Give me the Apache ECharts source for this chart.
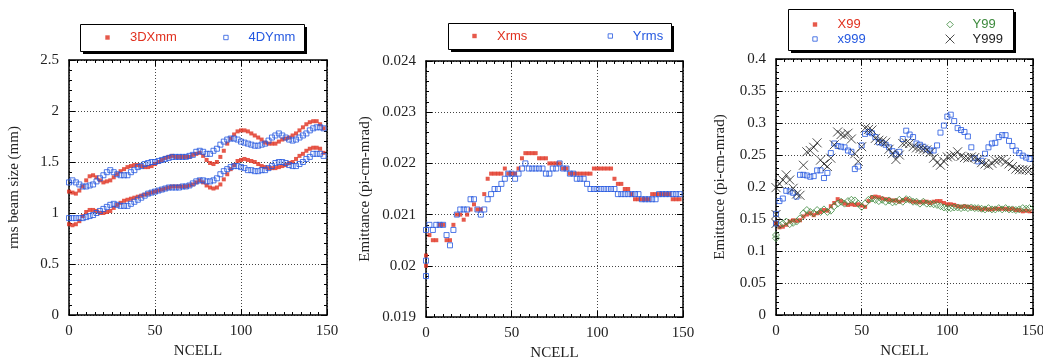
<!DOCTYPE html>
<html>
<head>
<meta charset="utf-8">
<script src="https://cdn.jsdelivr.net/npm/echarts@6.0.0/dist/echarts.min.js"></script>
<style>
  html, body { margin: 0; padding: 0; background: #fff; }
  #chart { width: 1043px; height: 360px; }
</style>
</head>
<body>
<div id="chart"></div>
<script>
// NCELL positions shared by all series
const cells = [0, 2, 4, 6, 8, 10, 12, 14, 16, 18, 20, 22, 24, 26, 28, 30, 32, 34, 36, 38,
  40, 42, 44, 46, 48, 50, 52, 54, 56, 58, 60, 62, 64, 66, 68, 70, 72, 74, 76, 78,
  80, 82, 84, 86, 88, 90, 92, 94, 96, 98, 100, 102, 104, 106, 108, 110, 112, 114, 116, 118,
  120, 122, 124, 126, 128, 130, 132, 134, 136, 138, 140, 142, 144, 146, 148];

// panel 1: rms beam size (mm), two branches per series
const dxUpper = [1.21, 1.20, 1.19, 1.22, 1.26, 1.32, 1.36, 1.37, 1.35, 1.32, 1.30, 1.31, 1.32, 1.35, 1.38, 1.41, 1.43, 1.45, 1.46, 1.47,
  1.47, 1.46, 1.45, 1.45, 1.46, 1.48, 1.50, 1.52, 1.54, 1.55, 1.56, 1.55, 1.55, 1.55, 1.55, 1.55, 1.57, 1.58, 1.59, 1.56,
  1.52, 1.49, 1.48, 1.50, 1.55, 1.61, 1.68, 1.73, 1.77, 1.80, 1.81, 1.81, 1.80, 1.78, 1.76, 1.74, 1.72, 1.69, 1.68, 1.68,
  1.68, 1.70, 1.72, 1.73, 1.74, 1.76, 1.78, 1.81, 1.84, 1.87, 1.89, 1.90, 1.90, 1.87, 1.83];
const dxLower = [0.89, 0.88, 0.89, 0.92, 0.97, 1.01, 1.03, 1.03, 1.02, 1.00, 1.00, 1.01, 1.02, 1.05, 1.08, 1.10, 1.12, 1.13, 1.14, 1.15,
  1.16, 1.17, 1.18, 1.19, 1.20, 1.21, 1.22, 1.23, 1.24, 1.25, 1.26, 1.26, 1.26, 1.26, 1.26, 1.27, 1.28, 1.30, 1.32, 1.30,
  1.27, 1.25, 1.24, 1.25, 1.28, 1.33, 1.38, 1.43, 1.47, 1.51, 1.52, 1.53, 1.52, 1.51, 1.50, 1.48, 1.46, 1.45, 1.44, 1.44,
  1.44, 1.45, 1.46, 1.47, 1.49, 1.50, 1.53, 1.56, 1.58, 1.61, 1.63, 1.64, 1.64, 1.63, 1.59];
const dyUpper = [1.30, 1.32, 1.30, 1.28, 1.26, 1.26, 1.27, 1.28, 1.31, 1.34, 1.37, 1.40, 1.42, 1.40, 1.38, 1.37, 1.37, 1.37, 1.40, 1.42,
  1.45, 1.46, 1.48, 1.49, 1.50, 1.50, 1.51, 1.52, 1.53, 1.54, 1.55, 1.55, 1.55, 1.55, 1.55, 1.56, 1.57, 1.60, 1.61, 1.60,
  1.58, 1.58, 1.61, 1.63, 1.67, 1.70, 1.72, 1.73, 1.73, 1.72, 1.70, 1.69, 1.68, 1.67, 1.66, 1.66, 1.67, 1.68, 1.71, 1.74,
  1.76, 1.78, 1.76, 1.74, 1.72, 1.71, 1.72, 1.74, 1.76, 1.78, 1.81, 1.83, 1.84, 1.84, 1.83];
const dyLower = [0.95, 0.95, 0.95, 0.95, 0.95, 0.96, 0.97, 0.98, 1.00, 1.02, 1.04, 1.06, 1.08, 1.09, 1.08, 1.07, 1.07, 1.07, 1.09, 1.11,
  1.13, 1.15, 1.17, 1.19, 1.20, 1.21, 1.22, 1.23, 1.24, 1.25, 1.25, 1.25, 1.25, 1.26, 1.26, 1.27, 1.29, 1.31, 1.32, 1.32,
  1.31, 1.31, 1.32, 1.34, 1.38, 1.41, 1.43, 1.45, 1.46, 1.46, 1.45, 1.44, 1.42, 1.42, 1.41, 1.41, 1.42, 1.42, 1.44, 1.46,
  1.49, 1.50, 1.50, 1.49, 1.47, 1.46, 1.46, 1.48, 1.50, 1.53, 1.55, 1.58, 1.58, 1.58, 1.56];

// panel 2: rms emittance
const xrms = [0.0202, 0.0206, 0.0205, 0.0205, 0.0208, 0.0208, 0.0205, 0.0205, 0.0208, 0.0210, 0.0210, 0.0209, 0.0210, 0.0211, 0.0212, 0.0211, 0.0211, 0.0214, 0.0217, 0.0218,
  0.0218, 0.0218, 0.0218, 0.0219, 0.0218, 0.0218, 0.0218, 0.0219, 0.0221, 0.0222, 0.0222, 0.0222, 0.0222, 0.0221, 0.0221, 0.0221, 0.0220, 0.0220, 0.0220, 0.0220,
  0.0219, 0.0219, 0.0218, 0.0218, 0.0218, 0.0218, 0.0218, 0.0218, 0.0218, 0.0219, 0.0219, 0.0219, 0.0219, 0.0219, 0.0219, 0.0217, 0.0216, 0.0216, 0.0215, 0.0215,
  0.0214, 0.0213, 0.0213, 0.0213, 0.0213, 0.0213, 0.0214, 0.0214, 0.0214, 0.0214, 0.0214, 0.0214, 0.0213, 0.0213, 0.0213];
const yrms = [0.0207, 0.0208, 0.0207, 0.0208, 0.0208, 0.0208, 0.0206, 0.0204, 0.0207, 0.0210, 0.0211, 0.0211, 0.0211, 0.0213, 0.0213, 0.0211, 0.0210, 0.0211, 0.0213, 0.0214,
  0.0215, 0.0215, 0.0216, 0.0217, 0.0218, 0.0218, 0.0217, 0.0218, 0.0219, 0.0220, 0.0219, 0.0219, 0.0219, 0.0219, 0.0219, 0.0218, 0.0218, 0.0219, 0.0219, 0.0220,
  0.0219, 0.0219, 0.0218, 0.0218, 0.0217, 0.0217, 0.0217, 0.0216, 0.0215, 0.0215, 0.0215, 0.0215, 0.0215, 0.0215, 0.0215, 0.0215, 0.0214, 0.0214, 0.0214, 0.0214,
  0.0214, 0.0214, 0.0214, 0.0213, 0.0213, 0.0213, 0.0213, 0.0213, 0.0214, 0.0214, 0.0214, 0.0214, 0.0214, 0.0214, 0.0214];
const xrmsAtZero = [0.0200];
const yrmsAtZero = [0.0201, 0.0198];

// panel 3: 99% and 99.9% emittance
const x99 = [0.143, 0.137, 0.138, 0.141, 0.146, 0.148, 0.147, 0.148, 0.154, 0.157, 0.159, 0.156, 0.159, 0.161, 0.164, 0.163, 0.170, 0.175, 0.181, 0.178,
  0.174, 0.172, 0.173, 0.172, 0.173, 0.171, 0.169, 0.178, 0.184, 0.185, 0.184, 0.182, 0.181, 0.180, 0.179, 0.179, 0.177, 0.179, 0.181, 0.179,
  0.177, 0.177, 0.176, 0.177, 0.177, 0.175, 0.177, 0.178, 0.178, 0.175, 0.173, 0.173, 0.172, 0.170, 0.169, 0.170, 0.169, 0.168, 0.167, 0.167,
  0.165, 0.166, 0.165, 0.165, 0.166, 0.166, 0.166, 0.166, 0.165, 0.166, 0.164, 0.164, 0.162, 0.163, 0.162];
const y99 = [0.125, 0.140, 0.143, 0.146, 0.142, 0.144, 0.146, 0.151, 0.159, 0.164, 0.161, 0.159, 0.164, 0.161, 0.165, 0.161, 0.163, 0.170, 0.174, 0.177,
  0.174, 0.178, 0.180, 0.179, 0.174, 0.169, 0.174, 0.180, 0.182, 0.180, 0.178, 0.180, 0.177, 0.179, 0.176, 0.177, 0.180, 0.177, 0.181, 0.180,
  0.177, 0.177, 0.174, 0.177, 0.174, 0.174, 0.173, 0.172, 0.170, 0.168, 0.167, 0.167, 0.168, 0.168, 0.167, 0.168, 0.167, 0.168, 0.167, 0.167,
  0.166, 0.165, 0.167, 0.165, 0.165, 0.167, 0.165, 0.167, 0.165, 0.165, 0.164, 0.165, 0.167, 0.166, 0.167];
const x999 = [0.158, 0.178, 0.182, 0.194, 0.193, 0.191, 0.185, 0.219, 0.219, 0.218, 0.216, 0.217, 0.226, 0.226, 0.214, 0.222, 0.253, 0.268, 0.264, 0.263,
  0.262, 0.257, 0.255, 0.228, 0.232, 0.265, 0.283, 0.286, 0.284, 0.278, 0.270, 0.269, 0.266, 0.262, 0.256, 0.251, 0.255, 0.275, 0.288, 0.282,
  0.278, 0.268, 0.266, 0.263, 0.259, 0.257, 0.257, 0.265, 0.285, 0.296, 0.310, 0.313, 0.303, 0.292, 0.289, 0.286, 0.279, 0.262, 0.245, 0.240,
  0.241, 0.252, 0.262, 0.268, 0.269, 0.278, 0.281, 0.281, 0.272, 0.264, 0.257, 0.253, 0.249, 0.246, 0.244];
const y999 = [0.199, 0.205, 0.211, 0.219, 0.211, 0.198, 0.189, 0.187, 0.234, 0.255, 0.257, 0.262, 0.269, 0.242, 0.236, 0.232, 0.245, 0.266, 0.286, 0.282,
  0.281, 0.284, 0.275, 0.252, 0.240, 0.263, 0.292, 0.290, 0.289, 0.276, 0.273, 0.272, 0.270, 0.259, 0.252, 0.243, 0.250, 0.268, 0.269, 0.268,
  0.263, 0.261, 0.260, 0.259, 0.258, 0.254, 0.245, 0.238, 0.234, 0.240, 0.247, 0.248, 0.250, 0.255, 0.248, 0.246, 0.245, 0.247, 0.246, 0.243,
  0.238, 0.236, 0.234, 0.237, 0.241, 0.242, 0.243, 0.239, 0.236, 0.232, 0.228, 0.227, 0.227, 0.227, 0.226];
const y99AtZero = [0.120];
const x999AtZero = [0.143];
const y999AtZero = [0.157, 0.143];

const RED = "#e0301e";
const BLUE = "#2458e0";
const GREEN = "#3c8a3c";
const BLACK = "#222";
const serif = "'Liberation Serif', 'DejaVu Serif', serif";
const sans = "'Liberation Sans', Arial, sans-serif";

const SQ = "path://M0,0M10,10M3,3h4v4h-4z";
const DIAMOND = "path://M0,0M10,10M5,2L8,5L5,8L2,5z";
const CROSS = "path://M0,0M10,10M1,1L9,9M9,1L1,9";

const pairs = (xs, ys) => ys.map((v, i) => [xs[i], v]);
const atZero = (ys) => ys.map((v) => [0, v]);

// fixed plot frames; outerBoundsMode 'none' stops v6 from shrinking them
const grids = [
  { left: 69, top: 60, width: 258, height: 255, outerBoundsMode: "none" },
  { left: 426, top: 61, width: 257, height: 256, outerBoundsMode: "none" },
  { left: 776, top: 59, width: 257, height: 256, outerBoundsMode: "none" },
];

const yRanges = [
  { min: 0, max: 2.5, interval: 0.5, name: "rms beam size (mm)", gap: 47 },
  { min: 0.019, max: 0.024, interval: 0.001, name: "Emittance (pi-cm-mrad)", gap: 53 },
  { min: 0, max: 0.4, interval: 0.05, name: "Emittance (pi-cm-mrad)", gap: 48 },
];

const frameLine = { show: true, onZero: false, lineStyle: { color: "#000", width: 1.5 } };
const tick = { show: true, inside: true, length: 6, lineStyle: { color: "#000", width: 1 } };
const gridLine = { show: true, lineStyle: { color: "#444", width: 1, type: [1, 2] } };

const xAxis = [];
const yAxis = [];
grids.forEach((g, gi) => {
  const xBase = {
    type: "value", gridIndex: gi, min: 0, max: 150, interval: 50,
    axisLine: frameLine, axisTick: tick,
    minorTick: { show: true, splitNumber: 10, length: 3, lineStyle: { color: "#000" } },
  };
  xAxis.push(Object.assign({}, xBase, {
    position: "bottom",
    name: "NCELL", nameLocation: "middle", nameGap: 29,
    nameTextStyle: { fontFamily: serif, fontSize: 15, color: BLACK },
    axisLabel: { fontFamily: serif, fontSize: 15, color: BLACK, margin: 9 },
    splitLine: gridLine,
  }));
  xAxis.push(Object.assign({}, xBase, {
    position: "top", axisLabel: { show: false }, splitLine: { show: false },
  }));

  const r = yRanges[gi];
  const yBase = {
    type: "value", gridIndex: gi, min: r.min, max: r.max, interval: r.interval,
    axisLine: frameLine, axisTick: tick,
    minorTick: { show: true, splitNumber: 5, length: 3, lineStyle: { color: "#000" } },
  };
  yAxis.push(Object.assign({}, yBase, {
    position: "left",
    name: r.name, nameLocation: "middle", nameGap: r.gap, nameRotate: 90,
    nameTextStyle: { fontFamily: serif, fontSize: 15, color: BLACK },
    axisLabel: { fontFamily: serif, fontSize: 15, color: BLACK, margin: 10 },
    splitLine: gridLine,
  }));
  yAxis.push(Object.assign({}, yBase, {
    position: "right", axisLabel: { show: false }, splitLine: { show: false },
  }));
});

const filled = (color) => ({ color: color });
const hollow = (color) => ({ color: "rgba(0,0,0,0)", borderColor: color, borderWidth: 1 });

function scatter(name, panel, data, symbol, size, itemStyle) {
  return {
    name, type: "scatter", xAxisIndex: panel * 2, yAxisIndex: panel * 2,
    symbol, symbolSize: size, itemStyle, data, silent: true,
  };
}

const series = [
  scatter("3DXmm", 0, pairs(cells, dxUpper), "rect", 4, filled(RED)),
  scatter("3DXmm", 0, pairs(cells, dxLower), "rect", 4, filled(RED)),
  scatter("4DYmm", 0, pairs(cells, dyUpper), "rect", 5, hollow(BLUE)),
  scatter("4DYmm", 0, pairs(cells, dyLower), "rect", 5, hollow(BLUE)),

  scatter("Xrms", 1, pairs(cells, xrms).concat(atZero(xrmsAtZero)), "rect", 4, filled(RED)),
  scatter("Yrms", 1, pairs(cells, yrms).concat(atZero(yrmsAtZero)), "rect", 5, hollow(BLUE)),

  scatter("X99", 2, pairs(cells, x99), "rect", 4, filled(RED)),
  scatter("Y99", 2, pairs(cells, y99).concat(atZero(y99AtZero)), "diamond", 7, hollow(GREEN)),
  scatter("x999", 2, pairs(cells, x999).concat(atZero(x999AtZero)), "rect", 5, hollow(BLUE)),
  scatter("Y999", 2, pairs(cells, y999).concat(atZero(y999AtZero)), "path://M0,0L10,10M10,0L0,10", 9,
    { color: "rgba(0,0,0,0)", borderColor: BLACK, borderWidth: 1 }),
];

const legendText = { fontFamily: sans, fontSize: 13, lineHeight: 13 };
function legendItem(name, color, icon, style) {
  return { name, icon, itemStyle: style, textStyle: { color } };
}
function legend(left, top, items, orient, gap) {
  return {
    left, top, orient, itemGap: gap, padding: 0,
    itemWidth: 35, itemHeight: 11, selectedMode: false,
    textStyle: legendText, data: items,
  };
}

const legends = [
  legend(102, 31, [
    legendItem("3DXmm", RED, SQ, { color: RED, borderWidth: 0 }),
    legendItem("4DYmm", BLUE, SQ, hollow(BLUE)),
  ], "horizontal", 43),
  legend(469, 29.5, [
    legendItem("Xrms", RED, SQ, { color: RED, borderWidth: 0 }),
    legendItem("Yrms", BLUE, SQ, hollow(BLUE)),
  ], "horizontal", 77),
  legend(809, 18, [
    legendItem("X99", RED, SQ, { color: RED, borderWidth: 0 }),
    legendItem("x999", BLUE, SQ, hollow(BLUE)),
  ], "vertical", 1.5),
  legend(944, 18, [
    legendItem("Y99", GREEN, DIAMOND, hollow(GREEN)),
    legendItem("Y999", BLACK, CROSS, { color: "rgba(0,0,0,0)", borderColor: BLACK, borderWidth: 1 }),
  ], "vertical", 1.5),
];

// legend frames with a hard drop shadow
const boxes = [[80, 24, 224, 27], [448, 23, 223, 26], [788, 9, 225, 41]];
const graphic = [];
boxes.forEach(([x, y, w, h]) => {
  graphic.push({ type: "rect", shape: { x: x + 3, y: y + 3, width: w, height: h }, style: { fill: "#000" }, silent: true });
  graphic.push({ type: "rect", shape: { x: x + 0.5, y: y + 0.5, width: w, height: h }, style: { fill: "#fff", stroke: "#000", lineWidth: 1 }, silent: true });
});

const chart = echarts.init(document.getElementById("chart"));
chart.setOption({
  animation: false,
  backgroundColor: "#fff",
  grid: grids,
  xAxis,
  yAxis,
  legend: legends,
  graphic,
  series,
});
</script>
</body>
</html>
